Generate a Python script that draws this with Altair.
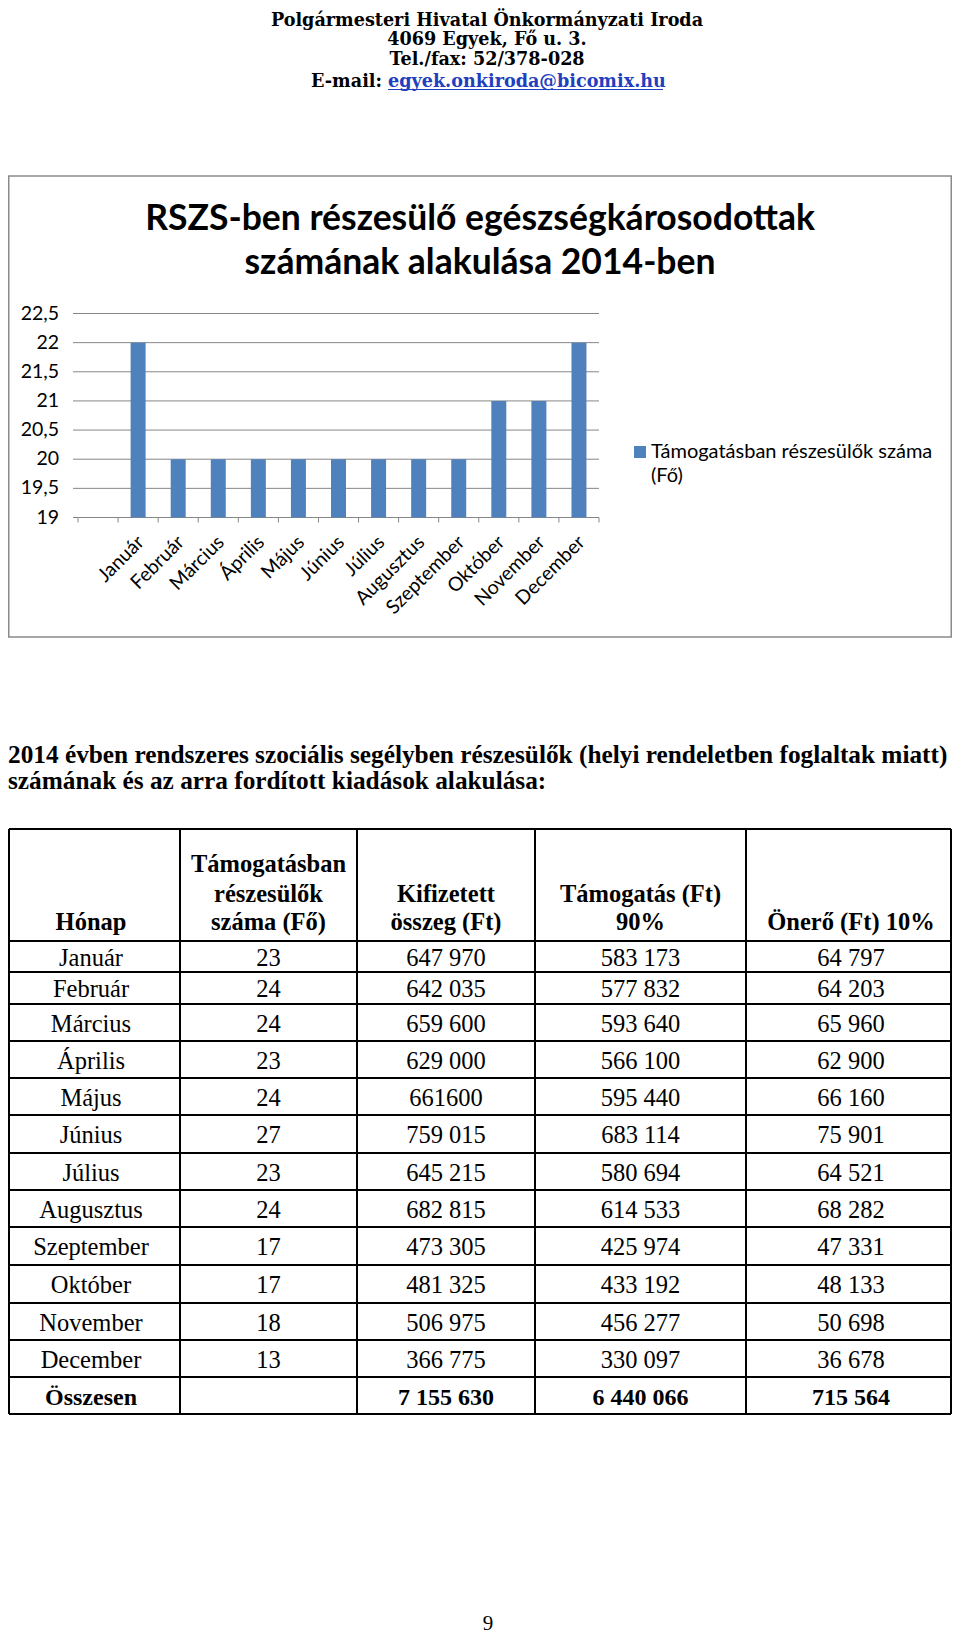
import altair as alt
import pandas as pd

# ---------------- data ----------------
header_lines = ["Polgármesteri Hivatal Önkormányzati Iroda",
                "4069 Egyek, Fő u. 3.",
                "Tel./fax: 52/378-028"]
email_label = "E-mail:"
email_addr = "egyek.onkiroda@bicomix.hu"

chart_title = ["RSZS-ben részesülő egészségkárosodottak",
               "számának alakulása 2014-ben"]
months = ["Január", "Február", "Március", "Április", "Május", "Június",
          "Július", "Augusztus", "Szeptember", "Október", "November", "December"]
bar_values = [22, 20, 20, 20, 20, 20, 20, 20, 20, 21, 21, 22]
y_ticks = [19, 19.5, 20, 20.5, 21, 21.5, 22, 22.5]
y_tick_labels = ["19", "19,5", "20", "20,5", "21", "21,5", "22", "22,5"]
legend_lines = ["Támogatásban részesülők száma", "(Fő)"]

paragraph = ["2014 évben rendszeres szociális segélyben részesülők (helyi rendeletben foglaltak miatt)",
             "számának és az arra fordított kiadások alakulása:"]

table_header = [["Hónap"],
                ["Támogatásban", "részesülők", "száma (Fő)"],
                ["Kifizetett", "összeg (Ft)"],
                ["Támogatás (Ft)", "90%"],
                ["Önerő (Ft) 10%"]]
tbl_month = months
tbl_count = ["23", "24", "24", "23", "24", "27", "23", "24", "17", "17", "18", "13"]
tbl_paid = ["647 970", "642 035", "659 600", "629 000", "661600", "759 015",
            "645 215", "682 815", "473 305", "481 325", "506 975", "366 775"]
tbl_support = ["583 173", "577 832", "593 640", "566 100", "595 440", "683 114",
               "580 694", "614 533", "425 974", "433 192", "456 277", "330 097"]
tbl_own = ["64 797", "64 203", "65 960", "62 900", "66 160", "75 901",
           "64 521", "68 282", "47 331", "48 133", "50 698", "36 678"]
total_row = ["Összesen", "", "7 155 630", "6 440 066", "715 564"]
page_number = "9"

# ---------------- layout ----------------
W, H = 944, 1629
OFF = 8


def c(p):
    return p - OFF


PX = alt.Scale(domain=[0, W], range=[0, W], nice=False, zero=False)
PY = alt.Scale(domain=[0, H], range=[0, H], nice=False, zero=False)

SERIF = "Liberation Serif"
SANS = "Lato"
GRID = "#868686"


def texts(items, **kw):
    df = pd.DataFrame(items, columns=["t", "px", "py"])
    return alt.Chart(df).mark_text(**kw).encode(
        x=alt.X("px:Q", scale=PX, axis=None),
        y=alt.Y("py:Q", scale=PY, axis=None),
        text="t:N")


def rules(items, **kw):
    df = pd.DataFrame(items, columns=["x1", "y1", "x2", "y2"])
    return alt.Chart(df).mark_rule(**kw).encode(
        x=alt.X("x1:Q", scale=PX, axis=None), x2="x2:Q",
        y=alt.Y("y1:Q", scale=PY, axis=None), y2="y2:Q")


def rects(items, **kw):
    df = pd.DataFrame(items, columns=["x1", "y1", "x2", "y2"])
    return alt.Chart(df).mark_rect(**kw).encode(
        x=alt.X("x1:Q", scale=PX, axis=None), x2="x2:Q",
        y=alt.Y("y1:Q", scale=PY, axis=None), y2="y2:Q")


layers = []

# ---- letterhead ----
hx = c(487)
HF = 17.6
layers.append(texts([(header_lines[0], hx, c(26)), (header_lines[1], hx, c(44.5)),
                     (header_lines[2], hx, c(65))],
                    font="DejaVu Serif", fontWeight="bold", fontSize=HF,
                    align="center", baseline="alphabetic", color="black"))
layers.append(texts([(email_label, c(382), c(87))], font="DejaVu Serif", fontWeight="bold",
                    fontSize=HF, align="right", baseline="alphabetic", color="black"))
layers.append(texts([(email_addr, c(388), c(87))], font="DejaVu Serif", fontWeight="bold",
                    fontSize=HF, align="left", baseline="alphabetic", color="#1f3fbf"))
layers.append(rules([(c(388), c(89.5), c(663), c(89.5))], color="#1f3fbf", strokeWidth=1.2))

# ---- chart frame ----
layers.append(rects([(0.75, c(176), W - 0.75, c(637))], fill="white", stroke="#8a8a8a",
                     strokeWidth=1.5))

# ---- chart title ----
layers.append(texts([(chart_title[0], c(480), c(230)), (chart_title[1], c(480), c(274))],
                    font=SANS, fontWeight="bold", fontSize=35.5, align="center",
                    baseline="alphabetic", color="black"))

# ---- bar chart ----
Y0, Y1 = c(517.5), c(313.5)
YB = alt.Scale(domain=[19, 22.5], range=[Y0, Y1], nice=False, zero=False)
AX0, AX1 = c(78), c(599)
step = (AX1 - AX0) / 13.0
XB = alt.Scale(domain=months, range=[AX0 + step, AX1], paddingInner=0.626, paddingOuter=0.313)
XT = alt.Scale(domain=[0, 13], range=[AX0, AX1], nice=False, zero=False)

grid_df = pd.DataFrame({"v": y_ticks, "lab": y_tick_labels})
layers.append(alt.Chart(grid_df).mark_rule(color=GRID, strokeWidth=1).encode(
    y=alt.Y("v:Q", scale=YB, axis=None), x=alt.value(c(73)), x2=alt.value(AX1)))
layers.append(alt.Chart(grid_df).mark_text(font=SANS, fontSize=19.5, align="right",
                                           baseline="middle", color="black").encode(
    y=alt.Y("v:Q", scale=YB, axis=None), x=alt.value(c(59)), text="lab:N"))

tick_df = pd.DataFrame({"i": list(range(14))})
layers.append(alt.Chart(tick_df).mark_rule(color=GRID, strokeWidth=1).encode(
    x=alt.X("i:Q", scale=XT, axis=None), y=alt.value(Y0), y2=alt.value(Y0 + 5)))

bar_df = pd.DataFrame({"month": months, "value": bar_values})
layers.append(alt.Chart(bar_df).mark_bar(color="#4F81BD").encode(
    x=alt.X("month:N", scale=XB, axis=None),
    y=alt.Y("value:Q", scale=YB, axis=None),
    y2=alt.datum(19)))
layers.append(alt.Chart(bar_df).mark_text(font=SANS, fontSize=19.5, angle=315, align="right",
                                          baseline="middle", color="black", dx=4).encode(
    x=alt.X("month:N", scale=XB, axis=None), y=alt.value(c(542)), text="month:N"))

# ---- legend ----
layers.append(rects([(c(634), c(446), c(646), c(458))], fill="#4F81BD"))
layers.append(texts([(legend_lines[0], c(651), c(458)), (legend_lines[1], c(651), c(482))],
                    font=SANS, fontSize=20, align="left", baseline="alphabetic",
                    color="black"))

# ---- paragraph ----
layers.append(texts([(paragraph[0], 0, c(763)), (paragraph[1], 0, c(789))],
                    font=SERIF, fontWeight="bold", fontSize=25.3, align="left",
                    baseline="alphabetic", color="black"))

# ---- table ----
col_edges = [1, c(180), c(357), c(535), c(746), W - 1]
row_edges = [c(v) for v in [829, 941, 972, 1004, 1041, 1078, 1115, 1153, 1190,
                            1227, 1265, 1303, 1340, 1377, 1414]]
col_mid = [(col_edges[i] + col_edges[i + 1]) / 2 for i in range(5)]
col_mid[0] = c(91)
col_mid[-1] = c(851)

grid_items = [(x, row_edges[0], x, row_edges[-1]) for x in col_edges]
grid_items += [(col_edges[0], y, col_edges[-1], y) for y in row_edges]
layers.append(rules(grid_items, color="black", strokeWidth=2))

# header
head_items = []
line_y = [c(865), c(895), c(923)]
for ci, lines in enumerate(table_header):
    start = 3 - len(lines)
    for li, t in enumerate(lines):
        head_items.append((t, col_mid[ci], line_y[start + li]))
layers.append(texts(head_items, font=SERIF, fontWeight="bold", fontSize=24.5,
                    align="center", baseline="middle", color="black"))

body_items = []
cols = [tbl_month, tbl_count, tbl_paid, tbl_support, tbl_own]
for r in range(12):
    yc = (row_edges[r + 1] + row_edges[r + 2]) / 2 + 2
    for ci in range(5):
        body_items.append((cols[ci][r], col_mid[ci], yc))
layers.append(texts(body_items, font=SERIF, fontSize=24.5, align="center",
                    baseline="middle", color="black"))

yt = (row_edges[13] + row_edges[14]) / 2 + 2
tot_items = [(t, col_mid[ci], yt) for ci, t in enumerate(total_row) if t]
layers.append(texts(tot_items, font=SERIF, fontWeight="bold", fontSize=24,
                    align="center", baseline="middle", color="black"))

# ---- page number ----
layers.append(texts([(page_number, c(488), c(1630))], font=SERIF, fontSize=21,
                    align="center", baseline="alphabetic", color="black"))

chart = alt.layer(*layers).properties(
    width=W, height=H, padding=0,
    autosize=alt.AutoSizeParams(type="none"),
    background="white",
).resolve_scale(x="independent", y="independent").configure_view(stroke=None)

chart.save("out.html", embed_options={"renderer": "svg", "actions": False})
